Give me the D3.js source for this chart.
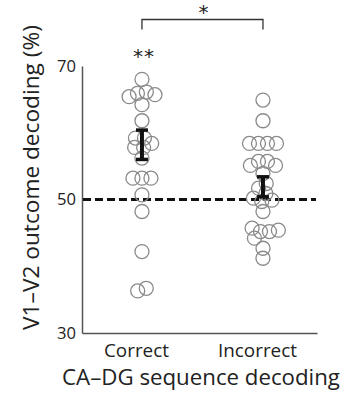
<!DOCTYPE html>
<html>
<head>
<meta charset="utf-8">
<script src="https://cdn.jsdelivr.net/npm/d3@7"></script>
<style>
  html, body { margin: 0; padding: 0; background: #fff; }
  svg { display: block; font-family: "Open Sans", sans-serif; }
</style>
</head>
<body>
<svg id="chart" width="354" height="393"></svg>
<script>
// ---- data ----
const categories = ["Correct", "Incorrect"];
const correctValues = [68.0, 66.1, 65.9, 65.7, 65.4, 64.2, 61.8, 59.2, 59.2, 58.4, 57.8, 57.8, 56.2,
  53.2, 53.2, 53.2, 50.7, 48.2, 42.2, 36.7, 36.3];
const incorrectValues = [64.9, 61.8, 58.4, 58.4, 58.4, 58.4, 55.7, 55.7, 55.1, 55.1, 53.9, 52.4,
  51.7, 50.9, 50.2, 49.9, 49.7, 48.2, 45.7, 45.4, 45.2, 45.2, 44.2, 42.7, 41.2];
const meanValues = [58.2, 51.9];
const semValues = [2.2, 1.5];
const yTickValues = [30, 50, 70];
const chanceLevel = 50;
const groupStars = ["**", ""];
const pairStars = "*";
const xTitle = "CA\u2013DG sequence decoding";
const yTitle = "V1\u2013V2 outcome decoding (%)";

(function () {
// ---- layout ----
const svg = d3.select("#chart");
const mLeft = 82, mRight = 317, mTop = 66, mBottom = 333;
const y = d3.scaleLinear().domain([30, 70]).range([mBottom, mTop]);
const x = d3.scalePoint().domain(categories).range([mLeft, mRight]).padding(0.471).align(0.526);

function fitFont(sel, target, base) {
  sel.style("font-size", base + "px");
  const w = sel.node().getComputedTextLength();
  sel.style("font-size", (base * target / w) + "px");
}

const textColor = "#222";
const axisColor = "#555";
const starFont = "'DejaVu Sans', sans-serif";

// y axis
const yAxis = svg.append("g").attr("transform", `translate(${mLeft},0)`)
  .call(d3.axisLeft(y).tickValues(yTickValues).tickSize(0).tickPadding(6));
yAxis.select(".domain").attr("stroke", axisColor).attr("stroke-width", 1.5);
yAxis.selectAll("text").attr("fill", textColor).style("font-family", "'Open Sans', sans-serif")
  .each(function () { fitFont(d3.select(this), 19, 16); });

// x axis
const xAxis = svg.append("g").attr("transform", `translate(0,${mBottom})`)
  .call(d3.axisBottom(x).tickSize(0).tickSizeOuter(0).tickPadding(11));
xAxis.select(".domain").attr("stroke", axisColor).attr("stroke-width", 1.5);
xAxis.selectAll("text").attr("fill", textColor).attr("dx", -6).style("font-family", "'Open Sans', sans-serif")
  .each(function (d) { fitFont(d3.select(this), d === "Correct" ? 65 : 79, 18); });

// chance line
svg.append("line")
  .attr("x1", mLeft + 1).attr("x2", mRight - 1)
  .attr("y1", y(chanceLevel)).attr("y2", y(chanceLevel))
  .attr("stroke", "#111").attr("stroke-width", 3)
  .attr("stroke-dasharray", "8,4");

// swarm positions via force simulation (y fixed)
const r = 7;
categories.forEach((cat, ci) => {
  const vals = ci === 0 ? correctValues : incorrectValues;
  const nodes = vals.map(v => ({ v, fy: y(v) }));
  nodes.forEach((n, i) => { n.x = x(cat) + ((i % 2) ? 1 : -1) * (i % 5) * 2; n.y = n.fy; });
  const sim = d3.forceSimulation(nodes)
    .force("x", d3.forceX(x(cat)).strength(0.08))
    .force("collide", d3.forceCollide(4.5))
    .stop();
  for (let i = 0; i < 300; i++) sim.tick();
  svg.append("g").selectAll("circle").data(nodes).join("circle")
    .attr("cx", d => d.x).attr("cy", d => d.fy).attr("r", r)
    .attr("fill", "none").attr("stroke", "#8a8a8a").attr("stroke-width", 1.3);
});

// error bars
const eb = svg.append("g");
categories.forEach((cat, i) => {
  const cx = x(cat), m = meanValues[i], s = semValues[i];
  eb.append("line").attr("x1", cx).attr("x2", cx).attr("y1", y(m + s)).attr("y2", y(m - s))
    .attr("stroke", "#111").attr("stroke-width", 4);
  [m + s, m - s].forEach(v => {
    eb.append("line").attr("x1", cx - 6).attr("x2", cx + 6).attr("y1", y(v)).attr("y2", y(v))
      .attr("stroke", "#111").attr("stroke-width", 3.5);
  });
});

// significance stars above groups
categories.forEach((cat, i) => {
  if (!groupStars[i]) return;
  svg.append("text").attr("x", x(cat) + 2).attr("y", 63)
    .attr("text-anchor", "middle").attr("fill", textColor)
    .style("font-family", starFont).style("font-size", "20px").style("letter-spacing", "1px")
    .text(groupStars[i]);
});

// bracket
const bx1 = x(categories[0]), bx2 = x(categories[1]);
svg.append("path")
  .attr("d", `M${bx1},29.5 V19.5 H${bx2} V29.5`)
  .attr("fill", "none").attr("stroke", "#333").attr("stroke-width", 1.3);
svg.append("text").attr("x", (bx1 + bx2) / 2 + 1).attr("y", 19)
  .attr("text-anchor", "middle").attr("fill", textColor)
  .style("font-family", starFont).style("font-size", "20px").text(pairStars);

// axis titles
const xt = svg.append("text").attr("x", 201).attr("y", 385)
  .attr("text-anchor", "middle").attr("fill", textColor).text(xTitle);
fitFont(xt, 278, 22);

const yt = svg.append("text")
  .attr("transform", "translate(39,177.5) rotate(-90)")
  .attr("text-anchor", "middle").attr("fill", textColor).text(yTitle);
fitFont(yt, 305, 22);
})();
</script>
</body>
</html>
